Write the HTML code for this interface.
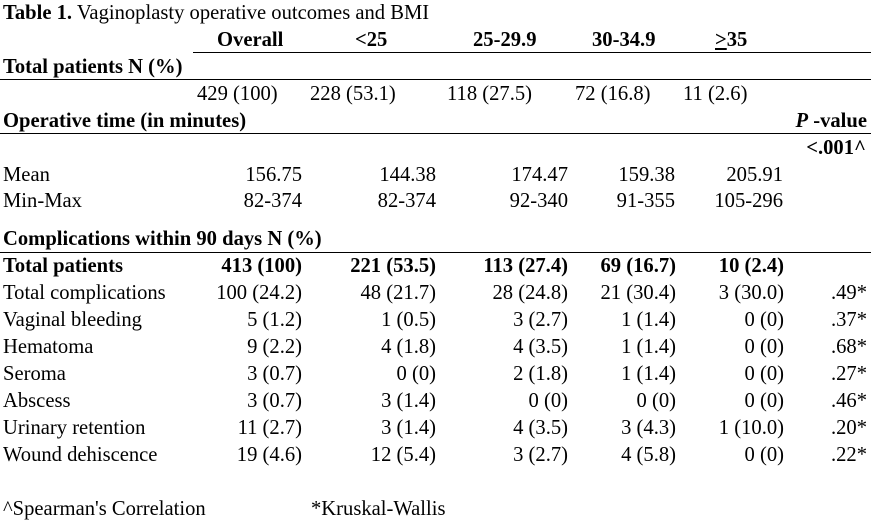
<!DOCTYPE html>
<html><head><meta charset="utf-8"><style>
body{margin:0;background:#fff;width:894px;height:531px;position:relative;overflow:hidden;font-family:"Liberation Serif","Times New Roman",serif;font-size:20.6px;color:#000}
.t{position:absolute;white-space:nowrap;line-height:20px;height:20px}
.b{font-weight:bold}
.l{position:absolute;height:1px;background:#000}
</style></head><body>
<div class="t" style="left:3px;top:3px"><b>Table 1.</b> Vaginoplasty operative outcomes and BMI</div>
<div class="t b" style="left:217px;top:30px">Overall</div>
<div class="t b" style="left:355px;top:30px">&lt;25</div>
<div class="t b" style="left:473px;top:30px">25-29.9</div>
<div class="t b" style="left:592px;top:30px">30-34.9</div>
<div class="t b" style="left:715px;top:30px"><u>&gt;</u>35</div>
<div class="l" style="left:193px;width:678px;top:52px"></div>
<div class="t b" style="left:3px;top:57px">Total patients N (%)</div>
<div class="l" style="left:0;width:871px;top:79px"></div>
<div class="t" style="left:197px;top:84px">429 (100)</div>
<div class="t" style="left:310px;top:84px">228 (53.1)</div>
<div class="t" style="left:447px;top:84px">118 (27.5)</div>
<div class="t" style="left:575px;top:84px">72 (16.8)</div>
<div class="t" style="left:683px;top:84px">11 (2.6)</div>
<div class="t b" style="left:3px;top:111px">Operative time (in minutes)</div>
<div class="t b" style="right:27px;top:111px"><i>P</i> -value</div>
<div class="l" style="left:0;width:871px;top:133px"></div>
<div class="t b" style="right:28px;top:138px">&lt;.001^</div>
<div class="t" style="left:3px;top:165px">Mean</div>
<div class="t" style="right:592px;top:165px">156.75</div>
<div class="t" style="right:458px;top:165px">144.38</div>
<div class="t" style="right:326px;top:165px">174.47</div>
<div class="t" style="right:219px;top:165px">159.38</div>
<div class="t" style="right:111px;top:165px">205.91</div>
<div class="t" style="left:3px;top:191px">Min-Max</div>
<div class="t" style="right:592px;top:191px">82-374</div>
<div class="t" style="right:458px;top:191px">82-374</div>
<div class="t" style="right:326px;top:191px">92-340</div>
<div class="t" style="right:219px;top:191px">91-355</div>
<div class="t" style="right:111px;top:191px">105-296</div>
<div class="t b" style="left:3px;top:229px">Complications within 90 days N (%)</div>
<div class="l" style="left:0;width:871px;top:252px"></div>
<div class="t" style="left:3px;top:499px">^Spearman's Correlation</div>
<div class="t" style="left:311px;top:499px">*Kruskal-Wallis</div>
<div class="t b" style="left:3px;top:256px">Total patients</div>
<div class="t b" style="right:592px;top:256px">413 (100)</div>
<div class="t b" style="right:458px;top:256px">221 (53.5)</div>
<div class="t b" style="right:326px;top:256px">113 (27.4)</div>
<div class="t b" style="right:218px;top:256px">69 (16.7)</div>
<div class="t b" style="right:110px;top:256px">10 (2.4)</div>

<div class="t" style="left:3px;top:283px">Total complications</div>
<div class="t" style="right:592px;top:283px">100 (24.2)</div>
<div class="t" style="right:458px;top:283px">48 (21.7)</div>
<div class="t" style="right:326px;top:283px">28 (24.8)</div>
<div class="t" style="right:218px;top:283px">21 (30.4)</div>
<div class="t" style="right:110px;top:283px">3 (30.0)</div>
<div class="t" style="right:27px;top:283px">.49*</div>

<div class="t" style="left:3px;top:310px">Vaginal bleeding</div>
<div class="t" style="right:592px;top:310px">5 (1.2)</div>
<div class="t" style="right:458px;top:310px">1 (0.5)</div>
<div class="t" style="right:326px;top:310px">3 (2.7)</div>
<div class="t" style="right:218px;top:310px">1 (1.4)</div>
<div class="t" style="right:110px;top:310px">0 (0)</div>
<div class="t" style="right:27px;top:310px">.37*</div>

<div class="t" style="left:3px;top:337px">Hematoma</div>
<div class="t" style="right:592px;top:337px">9 (2.2)</div>
<div class="t" style="right:458px;top:337px">4 (1.8)</div>
<div class="t" style="right:326px;top:337px">4 (3.5)</div>
<div class="t" style="right:218px;top:337px">1 (1.4)</div>
<div class="t" style="right:110px;top:337px">0 (0)</div>
<div class="t" style="right:27px;top:337px">.68*</div>

<div class="t" style="left:3px;top:364px">Seroma</div>
<div class="t" style="right:592px;top:364px">3 (0.7)</div>
<div class="t" style="right:458px;top:364px">0 (0)</div>
<div class="t" style="right:326px;top:364px">2 (1.8)</div>
<div class="t" style="right:218px;top:364px">1 (1.4)</div>
<div class="t" style="right:110px;top:364px">0 (0)</div>
<div class="t" style="right:27px;top:364px">.27*</div>

<div class="t" style="left:3px;top:391px">Abscess</div>
<div class="t" style="right:592px;top:391px">3 (0.7)</div>
<div class="t" style="right:458px;top:391px">3 (1.4)</div>
<div class="t" style="right:326px;top:391px">0 (0)</div>
<div class="t" style="right:218px;top:391px">0 (0)</div>
<div class="t" style="right:110px;top:391px">0 (0)</div>
<div class="t" style="right:27px;top:391px">.46*</div>

<div class="t" style="left:3px;top:418px">Urinary retention</div>
<div class="t" style="right:592px;top:418px">11 (2.7)</div>
<div class="t" style="right:458px;top:418px">3 (1.4)</div>
<div class="t" style="right:326px;top:418px">4 (3.5)</div>
<div class="t" style="right:218px;top:418px">3 (4.3)</div>
<div class="t" style="right:110px;top:418px">1 (10.0)</div>
<div class="t" style="right:27px;top:418px">.20*</div>

<div class="t" style="left:3px;top:445px">Wound dehiscence</div>
<div class="t" style="right:592px;top:445px">19 (4.6)</div>
<div class="t" style="right:458px;top:445px">12 (5.4)</div>
<div class="t" style="right:326px;top:445px">3 (2.7)</div>
<div class="t" style="right:218px;top:445px">4 (5.8)</div>
<div class="t" style="right:110px;top:445px">0 (0)</div>
<div class="t" style="right:27px;top:445px">.22*</div>
</body></html>
